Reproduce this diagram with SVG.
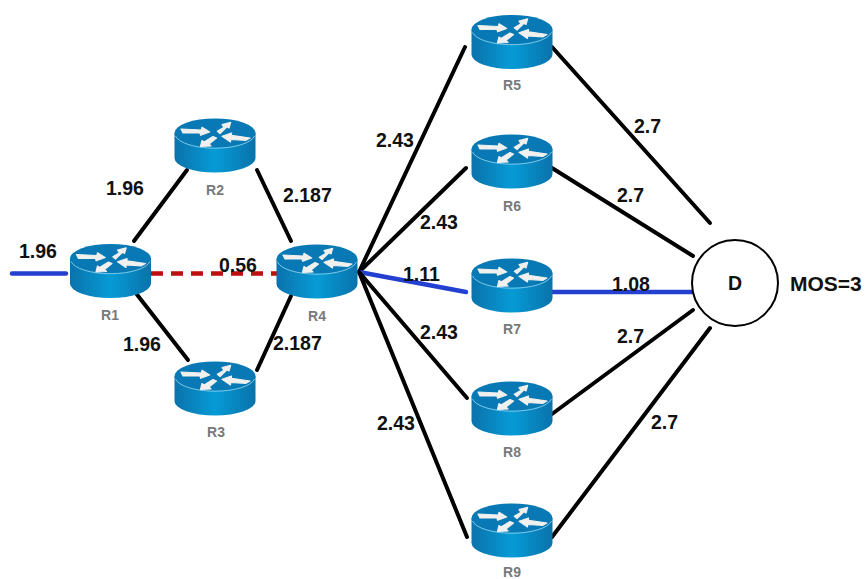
<svg xmlns="http://www.w3.org/2000/svg" xmlns:xlink="http://www.w3.org/1999/xlink" width="865" height="579" viewBox="0 0 865 579">
<style>
.lb{font-family:"Liberation Sans",Arial,sans-serif;font-size:19.5px;font-weight:700;fill:#111}
.rn{font-family:"Liberation Sans",Arial,sans-serif;font-size:14px;font-weight:700;fill:#77797c;text-anchor:middle}
.k{stroke:#000;stroke-width:4;fill:none;stroke-linecap:round}
.b{stroke:#2340d0;stroke-width:4.500;fill:none;stroke-linecap:round}
.r{stroke:#c00d0d;stroke-width:4.500;fill:none;stroke-dasharray:12 8}
.ar{fill:#f0f0ee;stroke:#f0f0ee;stroke-width:1.200;stroke-linejoin:round}
</style>
<defs>
<linearGradient id="side" x1="0" x2="1" y1="0" y2="0">
<stop offset="0" stop-color="#0a72ab"/><stop offset="0.5" stop-color="#069bd6"/><stop offset="1" stop-color="#0a72ab"/>
</linearGradient>
<symbol id="rt" overflow="visible" width="1" height="1">
<path d="M-40.500 0V25A40.500 14.500 0 0 0 40.500 25V0Z" fill="url(#side)"/>
<ellipse rx="40.500" ry="14.500" fill="#0879b4"/>
<path d="M-39.500 3A40 14.500 0 0 0 39.500 3" fill="none" stroke="#7cc6e6" stroke-width="1"/>
<path class="ar" d="M-34-4L-13.700-3L-13-5.700L-5.300-1L-14.300 2.300L-15 0L-32 0Z"/>
<path class="ar" d="M2.300-1.700L9-5.700L7-8.300L15.700-10.700L14-5L12-6.300L5 .5Z"/>
<path class="ar" d="M7 3.300L16.500 0L16.500 2.300L35 5L31 7.300L15.500 6.500L15.500 9Z"/>
<path class="ar" d="M-14.500 13.500L-13 7.500L-11 9L-2 3.500L1.500 5L-6 11L-4 13Z"/>
</symbol>
</defs>
<rect width="865" height="579" fill="#fff"/>
<g id="connectors">
<path class="b" d="M12 273.500H66"/>
<path class="k" d="M134 241L187 170"/>
<path class="k" d="M135 292L188 360"/>
<path class="r" d="M151 273.500H278"/>
<path class="k" d="M257 170L291 241"/>
<path class="k" d="M257 370L291 296"/>
<path class="k" d="M359 272L465 47"/>
<path class="k" d="M359 272L466 168"/>
<path class="b" d="M359 272L466 292"/>
<path class="k" d="M359 272L467 398"/>
<path class="k" d="M359 272L467 537"/>
<path class="k" d="M552 47L710 223"/>
<path class="k" d="M552 168L693 256"/>
<path class="b" d="M552 292H692"/>
<path class="k" d="M552 414L693 310"/>
<path class="k" d="M552 537L710 328"/>
</g>
<g id="R1"><use href="#rt" x="110.500" y="258.500"/><text class="rn" x="110" y="320">R1</text></g>
<g id="R2"><use href="#rt" x="215" y="133"/><text class="rn" x="215" y="195">R2</text></g>
<g id="R3"><use href="#rt" x="215" y="376"/><text class="rn" x="216" y="437">R3</text></g>
<g id="R4"><use href="#rt" x="317" y="259"/><text class="rn" x="317" y="321">R4</text></g>
<g id="R5"><use href="#rt" x="512" y="29.500"/><text class="rn" x="512" y="90">R5</text></g>
<g id="R6"><use href="#rt" x="512" y="149"/><text class="rn" x="512" y="211">R6</text></g>
<g id="R7"><use href="#rt" x="512" y="273"/><text class="rn" x="512" y="334">R7</text></g>
<g id="R8"><use href="#rt" x="512" y="396"/><text class="rn" x="512" y="457">R8</text></g>
<g id="R9"><use href="#rt" x="512" y="518"/><text class="rn" x="512" y="577">R9</text></g>
<g id="D"><circle cx="735" cy="283" r="43" fill="#fff" stroke="#000" stroke-width="2"/><text class="lb" x="735" y="290" text-anchor="middle">D</text></g>
<g id="labels">
<text class="lb" x="19" y="258">1.96</text>
<text class="lb" x="106" y="195">1.96</text>
<text class="lb" x="123" y="351">1.96</text>
<text class="lb" x="219" y="272">0.56</text>
<text class="lb" x="283" y="202">2.187</text>
<text class="lb" x="273" y="350">2.187</text>
<text class="lb" x="376" y="147">2.43</text>
<text class="lb" x="420" y="229">2.43</text>
<text class="lb" x="403" y="281">1.11</text>
<text class="lb" x="420" y="339">2.43</text>
<text class="lb" x="377" y="430">2.43</text>
<text class="lb" x="634" y="133">2.7</text>
<text class="lb" x="617" y="202">2.7</text>
<text class="lb" x="612" y="291">1.08</text>
<text class="lb" x="617" y="343">2.7</text>
<text class="lb" x="651" y="429">2.7</text>
<text class="lb" x="790" y="291" style="font-size:21px">MOS=3</text>
</g>
</svg>
